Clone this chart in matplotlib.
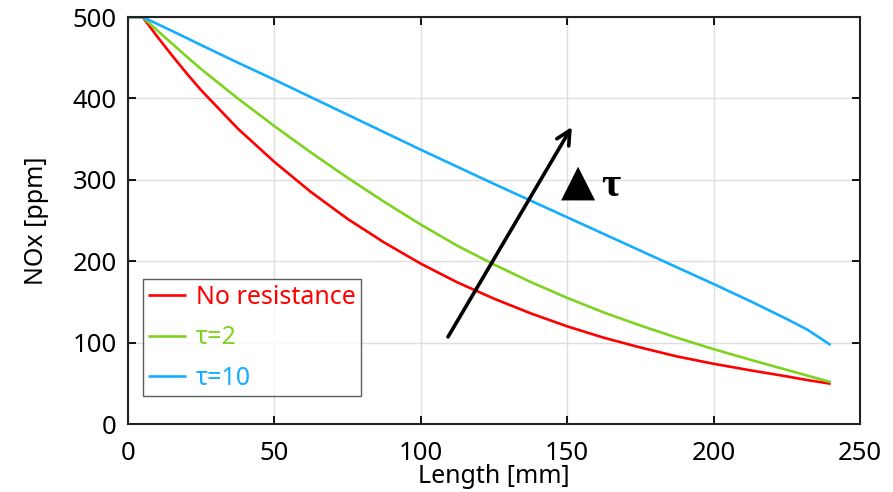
import matplotlib
matplotlib.use("Agg")
import matplotlib.pyplot as plt

# Length [mm] sample points
length = [0, 5, 10, 15, 20, 25, 37.5, 50, 62.5, 75, 87.5, 100, 112.5, 125,
          137.5, 150, 162.5, 175, 187.5, 200, 212.5, 225, 232, 240]

# NOx [ppm] for each case
nox_none = [500, 500, 476, 453, 431, 410, 363, 322, 285, 252, 223, 197, 174, 154,
            136, 120, 106, 94, 83, 74, 66, 58.5, 54, 49.5]
nox_tau2 = [500, 500, 483.5, 467.5, 451.5, 436, 400, 366, 333.5, 302.5, 273, 245, 219, 196,
            174.5, 155, 137, 121, 106, 92, 79, 66.5, 59.5, 51.5]
nox_tau10 = [500, 500, 491.5, 483, 474.3, 465.5, 444, 423, 401.5, 380, 358.5, 337, 316, 295,
             274.5, 254, 233.5, 213, 192.5, 172, 151, 129, 116, 97]

labels = ['No resistance', 'τ=2', 'τ=10']
colors = ['#ff0000', '#7ed321', '#14adff']

# arrow showing increasing tau (data coords)
arrow_start = (109.3, 107)
arrow_end = (151.6, 365)
triangle_pos = (147.8, 282)
tau_pos = (161.5, 280)

plt.rcParams['font.family'] = ['Noto Sans', 'DejaVu Sans']

fig = plt.figure(figsize=(8.93, 4.92), dpi=100)
ax = fig.add_axes([0.1433, 0.1382, 0.8197, 0.8272])

for y, lab, c in zip([nox_none, nox_tau2, nox_tau10], labels, colors):
    ax.plot(length, y, color=c, lw=1.9, label=lab, solid_capstyle='butt')

ax.set_xlim(0, 250)
ax.set_ylim(0, 500)
ax.set_xticks([0, 50, 100, 150, 200, 250])
ax.set_yticks([0, 100, 200, 300, 400, 500])
ax.grid(True, color='#dedede', lw=1)
ax.set_axisbelow(True)

ax.tick_params(direction='in', top=True, right=True, length=6, width=1.3,
               labelsize=18.5, colors='black')
ax.tick_params(axis='x', pad=12)
ax.tick_params(axis='y', pad=8)
for s in ax.spines.values():
    s.set_linewidth(1.5)
    s.set_color('#222222')

ax.set_xlabel('Length [mm]', fontsize=18, labelpad=-1)
ax.set_ylabel('NOx [ppm]', fontsize=18, labelpad=17)

leg = ax.legend(loc='lower left', bbox_to_anchor=(0.02, 0.068), fontsize=18,
                labelcolor='linecolor', frameon=True, fancybox=False,
                handlelength=1.5, handletextpad=0.4, labelspacing=0.62,
                borderpad=0.22, borderaxespad=0)
leg.get_frame().set_edgecolor('#333333')
leg.get_frame().set_linewidth(1.0)

ax.annotate('', xy=arrow_end, xytext=arrow_start,
            arrowprops=dict(arrowstyle='->', color='black', lw=2.6,
                            mutation_scale=25, shrinkA=0, shrinkB=0))
ax.text(triangle_pos[0], triangle_pos[1], '▲', fontsize=32,
        family='DejaVu Sans', ha='left', va='baseline')
ax.text(tau_pos[0], tau_pos[1], 'τ', fontsize=30, fontweight='bold',
        family=['Liberation Serif', 'DejaVu Serif'], ha='left', va='baseline')

fig.savefig('out.png', dpi=100)
